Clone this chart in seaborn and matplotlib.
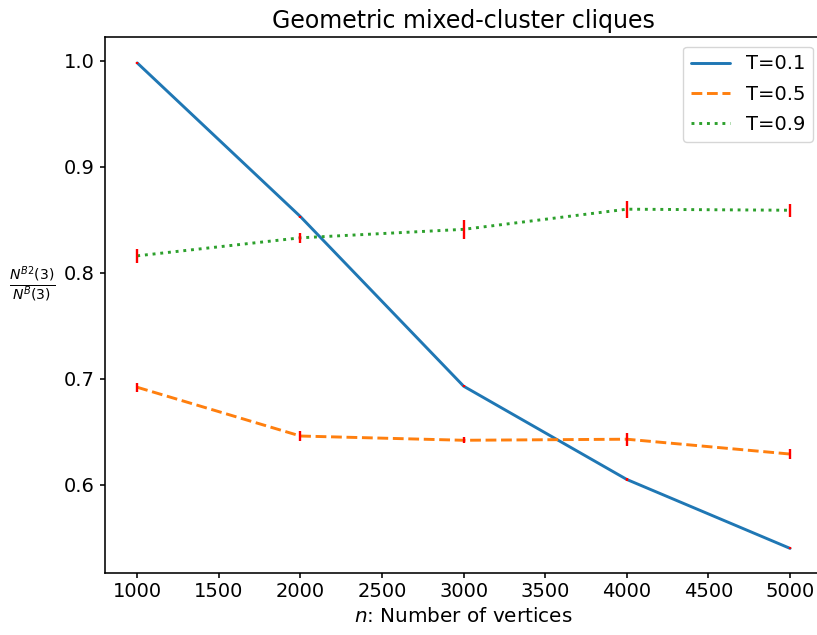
import numpy as np
import pandas as pd
import matplotlib
matplotlib.use("Agg")
import matplotlib.pyplot as plt
import seaborn as sns

# Data
N_VERTICES = [1000, 2000, 3000, 4000, 5000]
T_LABELS = ['T=0.1', 'T=0.5', 'T=0.9']
RATIO_T01 = [0.998, 0.853, 0.693, 0.605, 0.540]
RATIO_T05 = [0.692, 0.646, 0.642, 0.643, 0.629]
RATIO_T09 = [0.816, 0.833, 0.841, 0.860, 0.859]
ERR_T01 = [0.001, 0.001, 0.001, 0.001, 0.001]
ERR_T05 = [0.004, 0.005, 0.0028, 0.006, 0.005]
ERR_T09 = [0.0065, 0.005, 0.009, 0.008, 0.006]

rows = []
for label, vals, errs in zip(T_LABELS, [RATIO_T01, RATIO_T05, RATIO_T09],
                             [ERR_T01, ERR_T05, ERR_T09]):
    for n, v, e in zip(N_VERTICES, vals, errs):
        rows.append({'n': n, 'ratio': v, 'err': e, 'T': label})
df = pd.DataFrame(rows)

sns.set_style("ticks", {'text.color': 'black', 'axes.labelcolor': 'black',
                        'xtick.color': 'black', 'ytick.color': 'black',
                        'axes.edgecolor': 'black'})
plt.rcParams['font.family'] = ['DejaVu Sans']
plt.rcParams['axes.linewidth'] = 1.15
plt.rcParams['xtick.major.width'] = 1.15
plt.rcParams['ytick.major.width'] = 1.15

fig, ax = plt.subplots(figsize=(8.17, 6.35), dpi=100)
fig.subplots_adjust(left=0.128, right=1.007, top=0.942, bottom=0.098)

palette = ['#1f77b4', '#ff7f0e', '#2ca02c']
dashes = {'T=0.1': '', 'T=0.5': (3.7, 1.6), 'T=0.9': (1, 1.65)}
sns.lineplot(data=df, x='n', y='ratio', hue='T', style='T', palette=palette,
             dashes=dashes, linewidth=2.1, ax=ax, legend=True)

# red error bars, no caps
for label in T_LABELS:
    sub = df[df['T'] == label]
    ax.errorbar(sub['n'], sub['ratio'], yerr=sub['err'], fmt='none',
                ecolor='red', elinewidth=1.7, capsize=0, zorder=3)

ax.set_title('Geometric mixed-cluster cliques', fontsize=17)
ax.set_xlabel(r'$n$: Number of vertices', fontsize=14.4)
ax.set_ylabel(r'$\frac{N^{B2}(3)}{N^{B}(3)}$', fontsize=14.4, rotation=0)
ax.yaxis.set_label_coords(-0.1, 0.5)
ax.set_yticks([0.6, 0.7, 0.8, 0.9, 1.0])
ax.set_xticks(np.arange(1000, 5001, 500))
ax.tick_params(labelsize=14)
for s in ax.spines.values():
    s.set_visible(True)
ax.set_xlim(800, 5200)
ax.set_ylim(0.517, 1.0226)

leg = ax.legend(loc='upper right', fontsize=14, frameon=True, labelspacing=0.58)

fig.savefig('out.png', dpi=100)
